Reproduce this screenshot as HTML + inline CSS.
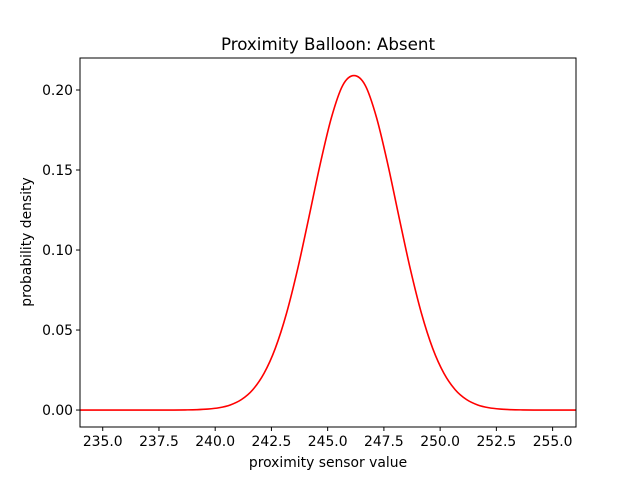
<!DOCTYPE html>
<html><head><meta charset="utf-8"><style>
body{margin:0;background:#fff}
svg{display:block;font-family:"DejaVu Sans","Liberation Sans",sans-serif}
</style></head><body>
<svg id="chart" width="640" height="480">
<rect width="640" height="480" fill="#fff"/>
<text x="328" y="50" font-size="16.7" text-anchor="middle">Proximity Balloon: Absent</text>
<g id="xticks"></g>
<g id="yticks"></g>
<path id="curve" fill="none" stroke="#ff0000" stroke-width="1.6"/>
<rect x="80" y="58" width="496" height="369" fill="none" stroke="#000" stroke-width="1"/>
<text x="328" y="467" font-size="13.9" text-anchor="middle">proximity sensor value</text>
<text transform="translate(31,242) rotate(-90)" font-size="13.9" text-anchor="middle">probability density</text>
</svg>
<script>
const xValues=[233.99,234.17,234.67,235.17,235.67,236.17,236.67,237.17,237.67,238.17,238.67,239.17,239.67,240.17,240.67,241.17,241.67,242.17,242.67,243.17,243.67,244.17,244.67,245.17,245.67,246.17,246.67,247.17,247.67,248.17,248.67,249.17,249.67,250.17,250.67,251.17,251.67,252.17,252.67,253.17,253.67,254.17,254.67,255.17,255.67,256.04];
const densityValues=[0,0,0,0,0,0,0,0,0,0,0.0000865,0.000237,0.000604,0.00143,0.00318,0.00658,0.0127,0.0229,0.0385,0.0604,0.0884,0.1207,0.1538,0.1829,0.2029,0.209,0.2029,0.1829,0.1538,0.1207,0.0884,0.0604,0.0385,0.0229,0.0127,0.00658,0.00318,0.00143,0.000604,0.000237,0.0000865,0,0,0,0,0];
const xTickValues=[235,237.5,240,242.5,245,247.5,250,252.5,255];
const xTickLabels=["235.0","237.5","240.0","242.5","245.0","247.5","250.0","252.5","255.0"];
const yTickValues=[0,0.05,0.10,0.15,0.20];
const yTickLabels=["0.00","0.05","0.10","0.15","0.20"];
const xMin=233.99,xMax=256.04,yMin=-0.0106,yMax=0.22;
const L=80,R=576,T=58,B=427;
function sx(v){return L+(v-xMin)/(xMax-xMin)*(R-L);}
function sy(v){return B-(v-yMin)/(yMax-yMin)*(B-T);}
const ns="http://www.w3.org/2000/svg";
const xg=document.getElementById('xticks'),yg=document.getElementById('yticks');
xTickValues.forEach((v,i)=>{
  const l=document.createElementNS(ns,'line');
  l.setAttribute('x1',sx(v));l.setAttribute('x2',sx(v));l.setAttribute('y1',B);l.setAttribute('y2',B+4);l.setAttribute('stroke','#000');
  
  
  xg.appendChild(l);
  const t=document.createElementNS(ns,'text');
  t.setAttribute('x',sx(v));t.setAttribute('y',B+19);t.setAttribute('font-size','13.9');t.setAttribute('text-anchor','middle');
  t.textContent=xTickLabels[i];
  
  
  xg.appendChild(t);
});
yTickValues.forEach((v,i)=>{
  const l=document.createElementNS(ns,'line');
  l.setAttribute('x1',L-4);l.setAttribute('x2',L);l.setAttribute('y1',sy(v));l.setAttribute('y2',sy(v));l.setAttribute('stroke','#000');
  
  
  yg.appendChild(l);
  const t=document.createElementNS(ns,'text');
  t.setAttribute('x',L-7);t.setAttribute('y',sy(v)+5);t.setAttribute('font-size','13.9');t.setAttribute('text-anchor','end');
  t.textContent=yTickLabels[i];
  
  
  yg.appendChild(t);
});
const n=Math.min(xValues.length,densityValues.length);
const pts=[];for(let i=0;i<n;i++)pts.push([sx(xValues[i]),sy(densityValues[i])]);
let d='M'+pts[0][0]+','+pts[0][1];
for(let i=0;i<pts.length-1;i++){
  const p0=pts[Math.max(0,i-1)],p1=pts[i],p2=pts[i+1],p3=pts[Math.min(pts.length-1,i+2)];
  const c1x=p1[0]+(p2[0]-p0[0])/6,c1y=p1[1]+(p2[1]-p0[1])/6;
  const c2x=p2[0]-(p3[0]-p1[0])/6,c2y=p2[1]-(p3[1]-p1[1])/6;
  d+=' C'+c1x+','+c1y+' '+c2x+','+c2y+' '+p2[0]+','+p2[1];
}
document.getElementById('curve').setAttribute('d',d);
</script>
</body></html>
